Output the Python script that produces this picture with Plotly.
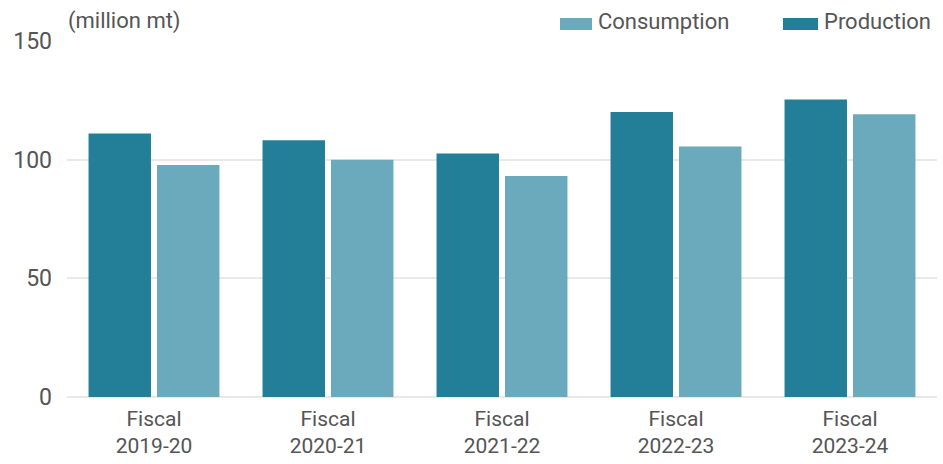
import plotly.graph_objects as go

# Fertilizer/commodity balance by fiscal year (million mt)
categories = ["Fiscal<br>2019-20", "Fiscal<br>2020-21", "Fiscal<br>2021-22",
              "Fiscal<br>2022-23", "Fiscal<br>2023-24"]
production = [111.0, 108.2, 102.6, 120.1, 125.3]
consumption = [97.8, 100.0, 93.1, 105.6, 119.1]
y_ticks = [0, 50, 100, 150]

PROD_COLOR = "#237f98"
CONS_COLOR = "#6aaabc"
TEXT_COLOR = "#555555"
FONT = "Roboto, Arial, sans-serif"

fig = go.Figure()
fig.add_trace(go.Bar(name="Production", x=categories, y=production,
                     marker=dict(color=PROD_COLOR, line=dict(width=0))))
fig.add_trace(go.Bar(name="Consumption", x=categories, y=consumption,
                     marker=dict(color=CONS_COLOR, line=dict(width=0))))

W, H = 943, 464
ML, MR, MT, MB = 67, 6, 41, 67
pw, ph = W - ML - MR, H - MT - MB


def px_x(p):
    return (p - ML) / pw


def px_y(p):
    return (H - MB - p) / ph


# Custom legend: wide swatches with labels, top right
legend_items = [("Consumption", CONS_COLOR, 560, 592), ("Production", PROD_COLOR, 783, 818)]
shapes = []
annotations = []
for label, color, x0, x1 in legend_items:
    shapes.append(dict(type="rect", xref="paper", yref="paper",
                       x0=px_x(x0), x1=px_x(x1), y0=px_y(30), y1=px_y(18),
                       fillcolor=color, line=dict(width=0)))
    annotations.append(dict(text=label, xref="paper", yref="paper",
                            x=px_x(x1 + 4), y=px_y(21), xanchor="left", yanchor="middle",
                            showarrow=False, font=dict(size=22, color=TEXT_COLOR, family=FONT)))

annotations.append(dict(text="(million mt)", xref="paper", yref="paper",
                        x=px_x(66), y=px_y(21), xanchor="left", yanchor="middle",
                        showarrow=False, font=dict(size=22, color=TEXT_COLOR, family=FONT)))

fig.update_layout(
    width=W, height=H,
    margin=dict(l=ML, r=MR, t=MT, b=MB, pad=0),
    paper_bgcolor="white", plot_bgcolor="white",
    barmode="group", bargap=0.213, bargroupgap=0.088,
    showlegend=False,
    font=dict(family=FONT, size=22, color=TEXT_COLOR),
    shapes=shapes, annotations=annotations,
    xaxis=dict(showgrid=False, showline=False, ticks="", zeroline=False,
               ticklabelstandoff=7, automargin=False,
               tickfont=dict(size=21, color=TEXT_COLOR)),
    yaxis=dict(range=[0, 150], tickvals=y_ticks, showgrid=True, gridcolor="#e9e9e9",
               gridwidth=1.5, zeroline=True, zerolinecolor="#e9e9e9", zerolinewidth=1.5,
               showline=False, ticks="", ticklabelstandoff=14, automargin=False,
               tickfont=dict(size=23, color=TEXT_COLOR)),
)

fig.write_html("out.html")
